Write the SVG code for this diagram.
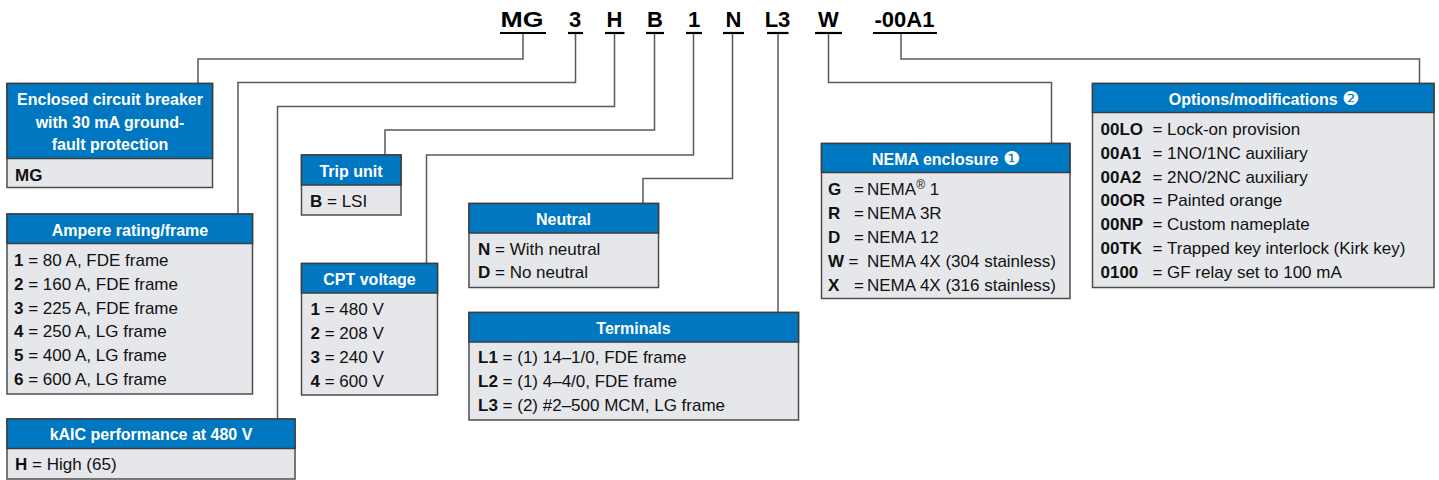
<svg xmlns="http://www.w3.org/2000/svg" width="1439" height="480" viewBox="0 0 1439 480">
<style>
text{font-family:"Liberation Sans",Arial,sans-serif}
.code{font-size:22px;font-weight:bold;fill:#000;text-anchor:middle}
.ul{stroke:#000;stroke-width:2.2}
.conn{fill:none;stroke:#5a5a5a;stroke-width:1.5}
.body{fill:#e6e7eb;stroke:#4d4d4d;stroke-width:1.5}
.head{fill:#0077c1;stroke:#3d3d3d;stroke-width:1.5}
.hdr{font-size:16px;font-weight:bold;fill:#fff;text-anchor:middle}
.t{font-size:17px;fill:#111}
.b{font-weight:bold}
.dg{font-family:"DejaVu Sans",sans-serif;font-size:19px;font-weight:normal}
</style>

<g id="code">
<text class="code" x="522" y="27" textLength="43" lengthAdjust="spacingAndGlyphs">MG</text>
<text class="code" x="575" y="27">3</text>
<text class="code" x="614.5" y="27">H</text>
<text class="code" x="655" y="27">B</text>
<text class="code" x="694" y="27">1</text>
<text class="code" x="733.5" y="27">N</text>
<text class="code" x="777.5" y="27">L3</text>
<text class="code" x="828.5" y="27">W</text>
<text class="code" x="904.5" y="27">-00A1</text>
<line class="ul" x1="500" y1="33" x2="546" y2="33"/>
<line class="ul" x1="568" y1="33" x2="583" y2="33"/>
<line class="ul" x1="605" y1="33" x2="624.5" y2="33"/>
<line class="ul" x1="646" y1="33" x2="664" y2="33"/>
<line class="ul" x1="686" y1="33" x2="702" y2="33"/>
<line class="ul" x1="723" y1="33" x2="744" y2="33"/>
<line class="ul" x1="767" y1="33" x2="788.5" y2="33"/>
<line class="ul" x1="815" y1="33" x2="842" y2="33"/>
<line class="ul" x1="873" y1="33" x2="937" y2="33"/>
</g>

<g id="connectors">
<path class="conn" d="M523 34 V59 H198 V83.5"/>
<path class="conn" d="M575.5 34 V82.5 H238 V214"/>
<path class="conn" d="M614.5 34 V106.5 H277.5 V419"/>
<path class="conn" d="M654.5 34 V130 H385 V155"/>
<path class="conn" d="M693.5 34 V155 H426.5 V263.5"/>
<path class="conn" d="M732.5 34 V178.5 H643 V203.5"/>
<path class="conn" d="M778 34 V312.5"/>
<path class="conn" d="M828.5 34 V82.5 H1051.5 V143.5"/>
<path class="conn" d="M901 34 V59 H1419.5 V83.5"/>
</g>

<g id="enclosed">
<rect class="body" x="7" y="83.5" width="205.5" height="104"/>
<rect class="head" x="7" y="83.5" width="205.5" height="75"/>
<text class="hdr" x="110" y="105">Enclosed circuit breaker</text>
<text class="hdr" x="110" y="127.5">with 30 mA ground-</text>
<text class="hdr" x="110" y="150">fault protection</text>
<text class="t b" x="15" y="180.5">MG</text>
</g>

<g id="ampere">
<rect class="body" x="7" y="214" width="245.5" height="180"/>
<rect class="head" x="7" y="214" width="245.5" height="29.5"/>
<text class="hdr" x="130" y="236">Ampere rating/frame</text>
<text class="t" x="14" y="266"><tspan class="b">1</tspan> = 80 A, FDE frame</text>
<text class="t" x="14" y="289.8"><tspan class="b">2</tspan> = 160 A, FDE frame</text>
<text class="t" x="14" y="313.6"><tspan class="b">3</tspan> = 225 A, FDE frame</text>
<text class="t" x="14" y="337.4"><tspan class="b">4</tspan> = 250 A, LG frame</text>
<text class="t" x="14" y="361.2"><tspan class="b">5</tspan> = 400 A, LG frame</text>
<text class="t" x="14" y="385"><tspan class="b">6</tspan> = 600 A, LG frame</text>
</g>

<g id="kaic">
<rect class="body" x="7" y="419" width="288" height="60"/>
<rect class="head" x="7" y="419" width="288" height="29.5"/>
<text class="hdr" x="151" y="439.5">kAIC performance at 480 V</text>
<text class="t" x="15" y="470"><tspan class="b">H</tspan> = High (65)</text>
</g>

<g id="trip">
<rect class="body" x="301.5" y="155" width="99.5" height="60"/>
<rect class="head" x="301.5" y="155" width="99.5" height="30"/>
<text class="hdr" x="351" y="176.5">Trip unit</text>
<text class="t" x="310" y="207"><tspan class="b">B</tspan> = LSI</text>
</g>

<g id="cpt">
<rect class="body" x="301.5" y="263.5" width="136" height="131.5"/>
<rect class="head" x="301.5" y="263.5" width="136" height="29.5"/>
<text class="hdr" x="369.5" y="284.5">CPT voltage</text>
<text class="t" x="310.5" y="314.5"><tspan class="b">1</tspan> = 480 V</text>
<text class="t" x="310.5" y="338.5"><tspan class="b">2</tspan> = 208 V</text>
<text class="t" x="310.5" y="362.5"><tspan class="b">3</tspan> = 240 V</text>
<text class="t" x="310.5" y="386.5"><tspan class="b">4</tspan> = 600 V</text>
</g>

<g id="neutral">
<rect class="body" x="469" y="203.5" width="189.5" height="84"/>
<rect class="head" x="469" y="203.5" width="189.5" height="29.5"/>
<text class="hdr" x="563.5" y="224.5">Neutral</text>
<text class="t" x="478" y="254.5"><tspan class="b">N</tspan> = With neutral</text>
<text class="t" x="478" y="278"><tspan class="b">D</tspan> = No neutral</text>
</g>

<g id="terminals">
<rect class="body" x="469" y="312.5" width="329.5" height="107.5"/>
<rect class="head" x="469" y="312.5" width="329.5" height="29.5"/>
<text class="hdr" x="633.5" y="333.5">Terminals</text>
<text class="t" x="478" y="363"><tspan class="b">L1</tspan> = (1) 14–1/0, FDE frame</text>
<text class="t" x="478" y="387"><tspan class="b">L2</tspan> = (1) 4–4/0, FDE frame</text>
<text class="t" x="478" y="411"><tspan class="b">L3</tspan> = (2) #2–500 MCM, LG frame</text>
</g>

<g id="nema">
<rect class="body" x="821.5" y="143.5" width="248.5" height="155"/>
<rect class="head" x="821.5" y="143.5" width="248.5" height="29"/>
<text class="hdr" x="946" y="164.5">NEMA enclosure <tspan class="dg">❶</tspan></text>
<text class="t" x="828" y="194.5"><tspan class="b">G</tspan><tspan x="854">=</tspan><tspan x="867">NEMA</tspan><tspan font-size="12" dy="-6">®</tspan><tspan dy="6"> 1</tspan></text>
<text class="t" x="828" y="218.5"><tspan class="b">R</tspan><tspan x="854">=</tspan><tspan x="867">NEMA 3R</tspan></text>
<text class="t" x="828" y="242.5"><tspan class="b">D</tspan><tspan x="854">=</tspan><tspan x="867">NEMA 12</tspan></text>
<text class="t" x="828" y="266.5"><tspan class="b">W</tspan><tspan x="848.5">=</tspan><tspan x="867">NEMA 4X (304 stainless)</tspan></text>
<text class="t" x="828" y="290.5"><tspan class="b">X</tspan><tspan x="854">=</tspan><tspan x="867">NEMA 4X (316 stainless)</tspan></text>
</g>

<g id="options">
<rect class="body" x="1092.5" y="83.5" width="341.5" height="204"/>
<rect class="head" x="1092.5" y="83.5" width="341.5" height="29"/>
<text class="hdr" x="1264" y="105">Options/modifications <tspan class="dg">❷</tspan></text>
<text class="t" x="1100.5" y="135"><tspan class="b">00LO</tspan><tspan x="1152.5">=</tspan><tspan x="1167">Lock-on provision</tspan></text>
<text class="t" x="1100.5" y="158.8"><tspan class="b">00A1</tspan><tspan x="1152.5">=</tspan><tspan x="1167">1NO/1NC auxiliary</tspan></text>
<text class="t" x="1100.5" y="182.6"><tspan class="b">00A2</tspan><tspan x="1152.5">=</tspan><tspan x="1167">2NO/2NC auxiliary</tspan></text>
<text class="t" x="1100.5" y="206.4"><tspan class="b">00OR</tspan><tspan x="1152.5">=</tspan><tspan x="1167">Painted orange</tspan></text>
<text class="t" x="1100.5" y="230.2"><tspan class="b">00NP</tspan><tspan x="1152.5">=</tspan><tspan x="1167">Custom nameplate</tspan></text>
<text class="t" x="1100.5" y="254"><tspan class="b">00TK</tspan><tspan x="1152.5">=</tspan><tspan x="1167">Trapped key interlock (Kirk key)</tspan></text>
<text class="t" x="1100.5" y="277.8"><tspan class="b">0100</tspan><tspan x="1152.5">=</tspan><tspan x="1167">GF relay set to 100 mA</tspan></text>
</g>
</svg>
